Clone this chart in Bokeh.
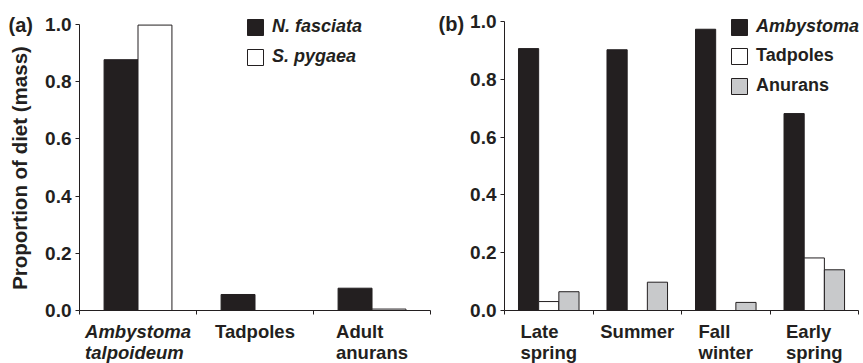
import math
from bokeh.plotting import figure
from bokeh.models import (ColumnDataSource, Range1d, FixedTicker, NumeralTickFormatter,
                          Legend, LegendItem, Label, LabelSet)
from bokeh.core.properties import value
from bokeh.layouts import row, column
from bokeh.transform import dodge
from bokeh.embed import file_html
from bokeh.resources import INLINE

FONT = "Liberation Sans"
BLACK = "#231f20"
GRAY = "#c8c9cb"

# ---- data ----
cats_a = ["Ambystoma\ntalpoideum", "Tadpoles", "Adult\nanurans"]
cat_styles_a = ["bold italic", "bold", "bold"]
nf_vals = [0.877, 0.056, 0.078]      # N. fasciata
sp_vals = [0.998, 0.0, 0.005]        # S. pygaea

cats_b = ["Late\nspring", "Summer", "Fall\nwinter", "Early\nspring"]
cat_styles_b = ["bold", "bold", "bold", "bold"]
amb_vals = [0.907, 0.903, 0.974, 0.682]
tad_vals = [0.031, 0.0, 0.0, 0.182]
anu_vals = [0.065, 0.098, 0.028, 0.141]

y_ticks = [0.0, 0.2, 0.4, 0.6, 0.8, 1.0]

TICK_SIZE = "19px"
CAT_SIZE = "18.5px"
LEG_SIZE = "18px"
PANEL_SIZE = "20px"
YLAB_SIZE = "20.5px"

TOP_H = 321     # height of the chart rows
STRIP_H = 42    # height of the category-label rows below them


def clean(p):
    p.outline_line_color = None
    p.grid.grid_line_color = None
    p.background_fill_color = None
    p.border_fill_color = None


def style_axes(p, ncat):
    clean(p)
    yax = p.yaxis[0]
    yax.ticker = FixedTicker(ticks=y_ticks)
    yax.formatter = NumeralTickFormatter(format="0.0")
    yax.bounds = (0, 1)
    yax.major_tick_in = 0
    yax.major_tick_out = 4
    yax.minor_tick_line_color = None
    yax.axis_line_color = BLACK
    yax.major_tick_line_color = BLACK
    yax.major_label_text_font = FONT
    yax.major_label_text_font_size = TICK_SIZE
    yax.major_label_text_font_style = "bold"
    yax.major_label_text_color = BLACK
    yax.major_label_standoff = 4

    xax = p.xaxis[0]
    xax.ticker = FixedTicker(ticks=[], minor_ticks=[float(i) for i in range(ncat + 1)])
    xax.bounds = (0, ncat)
    xax.major_label_text_font_size = "0px"
    xax.major_tick_line_color = None
    xax.major_tick_in = 0
    xax.major_tick_out = 0
    xax.minor_tick_in = 0
    xax.minor_tick_out = 4
    xax.minor_tick_line_color = BLACK
    xax.axis_line_color = BLACK


def label_strip(p, cats, styles, centers, width, left):
    s = figure(width=width, height=STRIP_H, x_range=p.x_range, y_range=Range1d(0, 1),
               output_backend="svg", toolbar_location=None,
               x_axis_location=None, y_axis_location=None,
               min_border_left=left, min_border_right=0, min_border_top=0, min_border_bottom=0)
    clean(s)
    src = ColumnDataSource(dict(x=centers, text=cats, style=styles))
    s.add_layout(LabelSet(x="x", y=STRIP_H + 1, y_units="screen", text="text", source=src,
                          text_font=value(FONT), text_font_size=value(CAT_SIZE),
                          text_font_style="style",
                          text_color=BLACK, text_align="center", text_baseline="top",
                          text_line_height=1.0))
    return s


def legend(items, loc, font_style):
    leg = Legend(items=items, location=loc)
    leg.label_text_font = FONT
    leg.label_text_font_size = LEG_SIZE
    leg.label_text_font_style = font_style
    leg.label_text_color = BLACK
    leg.glyph_width = 20
    leg.glyph_height = 20
    leg.label_height = 20
    leg.label_standoff = 7
    leg.spacing = 9
    leg.padding = 0
    leg.margin = 0
    leg.border_line_color = None
    leg.background_fill_alpha = 0
    return leg


# ---- left strip: panel letter and y-axis title ----
p0 = figure(width=36, height=TOP_H + STRIP_H, x_range=Range1d(0, 1), y_range=Range1d(0, 1),
            output_backend="svg", toolbar_location=None,
            x_axis_location=None, y_axis_location=None,
            min_border_left=0, min_border_right=0, min_border_top=0, min_border_bottom=0)
clean(p0)
p0.add_layout(Label(x=8, y=339, x_units="screen", y_units="screen", text="(a)",
                    text_font=FONT, text_font_size=PANEL_SIZE, text_font_style="bold",
                    text_color=BLACK, text_align="left", text_baseline="middle"))
p0.add_layout(Label(x=19, y=195.5, x_units="screen", y_units="screen",
                    text="Proportion of diet (mass)", angle=math.pi / 2,
                    text_font=FONT, text_font_size=YLAB_SIZE, text_font_style="bold",
                    text_color=BLACK, text_align="center", text_baseline="middle"))

# ---- panel (a) ----
na = len(cats_a)
pa = figure(width=431, height=TOP_H, x_range=Range1d(0, na + 0.316), y_range=Range1d(0, 1.042),
            output_backend="svg", toolbar_location=None,
            min_border_left=43, min_border_right=0, min_border_top=12, min_border_bottom=11)
style_axes(pa, na)
centers_a = [i + 0.5 for i in range(na)]
src_a = ColumnDataSource(dict(pos=centers_a, nf=nf_vals, sp=sp_vals))
ra1 = pa.vbar(x=dodge("pos", -0.145), top="nf", width=0.29, source=src_a,
              fill_color=BLACK, line_color=BLACK, line_width=1)
ra2 = pa.vbar(x=dodge("pos", 0.145), top="sp", width=0.29, source=src_a,
              fill_color="white", line_color=BLACK, line_width=1)
pa.add_layout(legend([LegendItem(label="N. fasciata", renderers=[ra1]),
                      LegendItem(label="S. pygaea", renderers=[ra2])], (166, 243),
                     "bold italic"))
pa.add_layout(Label(x=359, y=287, x_units="screen", y_units="screen", text="(b)",
                    text_font=FONT, text_font_size=PANEL_SIZE, text_font_style="bold",
                    text_color=BLACK, text_align="left", text_baseline="middle"))
sa = label_strip(pa, cats_a, cat_styles_a, centers_a, 431, 43)

# ---- panel (b) ----
nb = len(cats_b)
pb = figure(width=396, height=TOP_H, x_range=Range1d(0, nb + 0.056), y_range=Range1d(0, 1.032),
            output_backend="svg", toolbar_location=None,
            min_border_left=36, min_border_right=0, min_border_top=12, min_border_bottom=11)
style_axes(pb, nb)
centers_b = [i + 0.5 for i in range(nb)]
src_b = ColumnDataSource(dict(pos=centers_b, amb=amb_vals, tad=tad_vals, anu=anu_vals))
rb1 = pb.vbar(x=dodge("pos", -0.228), top="amb", width=0.228, source=src_b,
              fill_color=BLACK, line_color=BLACK, line_width=1)
rb2 = pb.vbar(x=dodge("pos", 0.0), top="tad", width=0.228, source=src_b,
              fill_color="white", line_color=BLACK, line_width=1)
rb3 = pb.vbar(x=dodge("pos", 0.228), top="anu", width=0.228, source=src_b,
              fill_color=GRAY, line_color=BLACK, line_width=1)
pb.add_layout(legend([LegendItem(label="Ambystoma", renderers=[rb1])], (225, 273),
                     "bold italic"))
pb.add_layout(legend([LegendItem(label="Tadpoles", renderers=[rb2]),
                      LegendItem(label="Anurans", renderers=[rb3])], (225, 214),
                     "bold"))
sb = label_strip(pb, cats_b, cat_styles_b, centers_b, 396, 36)

layout = row(p0, column(pa, sa), column(pb, sb))
open("out.html", "w").write(file_html(layout, INLINE))
